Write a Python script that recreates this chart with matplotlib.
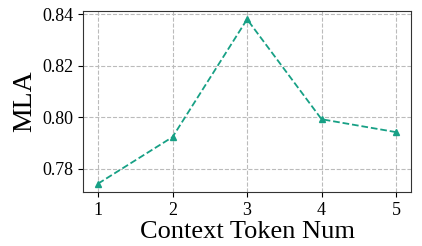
import matplotlib.pyplot as plt

# context token num vs MLA
token_num = [1, 2, 3, 4, 5]
mla = [0.7742, 0.7923, 0.838, 0.7992, 0.7942]
yticks = [0.78, 0.80, 0.82, 0.84]

plt.rcParams['font.family'] = ['Liberation Serif', 'DejaVu Serif']

fig, ax = plt.subplots(figsize=(4.22, 2.46), dpi=100)
ax.plot(token_num, mla, linestyle='--', marker='^', color='#17a085', markersize=5, linewidth=1.3)
ax.grid(True, linestyle='--', color='#bbbbbb', linewidth=0.8)
ax.set_axisbelow(True)
ax.set_xticks(token_num)
ax.set_yticks(yticks)
ax.set_yticklabels([f'{v:.2f}' for v in yticks])
ax.tick_params(labelsize=13)
ax.set_xlabel('Context Token Num', fontsize=19, labelpad=2)
ax.set_ylabel('MLA', fontsize=20)
for s in ax.spines.values():
    s.set_color('#333333')
fig.subplots_adjust(left=0.197, right=0.974, top=0.955, bottom=0.22)
plt.savefig('out.png')
